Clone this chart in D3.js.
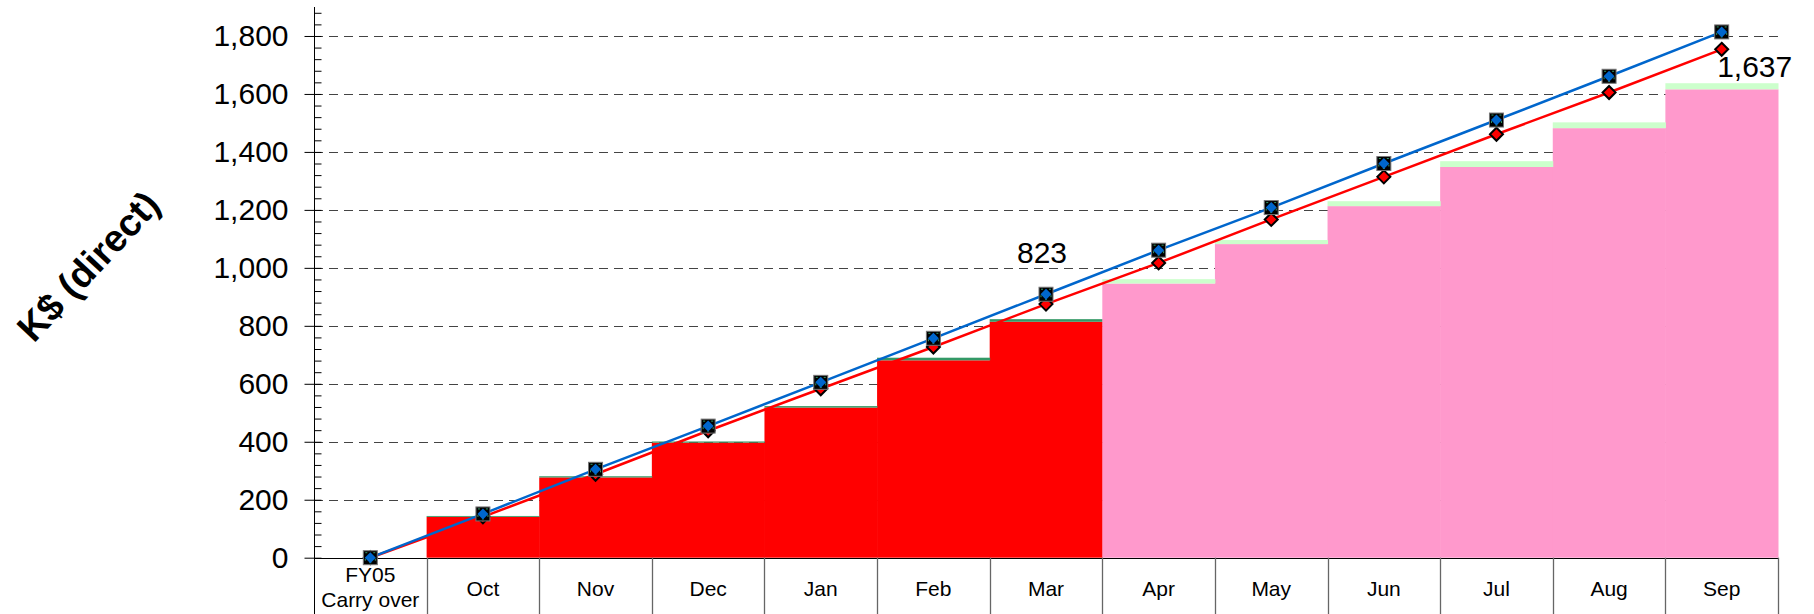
<!DOCTYPE html>
<html>
<head>
<meta charset="utf-8">
<title>K$ (direct) cumulative</title>
<style>
  body { margin: 0; background: #fff; }
  svg text { font-family: Arial, "Liberation Sans", sans-serif; fill: #000; }
</style>
</head>
<body>
<div id="chart"></div>
<script src="https://d3js.org/d3.v7.min.js"></script>
<script>
// categories, first one is two lines
var categories = ["FY05\nCarry over", "Oct", "Nov", "Dec", "Jan", "Feb", "Mar",
                  "Apr", "May", "Jun", "Jul", "Aug", "Sep"];

// cumulative bars: base part + small top part (stacked)
var actualBase   = [null, 141, 277, 397, 518, 681, 814, null, null, null, null, null, null];
var actualTop    = [null,   3,   4,   4,   5,   9,   9, null, null, null, null, null, null];
var forecastBase = [null, null, null, null, null, null, null, 946, 1082, 1213, 1348, 1482, 1616];
var forecastTop  = [null, null, null, null, null, null, null,  15,   14,   17,   20,   20,   21];

// lines
var planLine   = [0, 151, 305, 454, 605, 757, 909, 1061, 1208, 1360, 1510, 1661, 1814];
var actualLine = [0, 141, 288, 438, 583, 727, 875, 1017, 1167, 1314, 1461, 1605, 1754];

// data labels
var labelCats   = ["Mar", "Sep"];
var labelValues = [823, 1637];

var yTicks = [0, 200, 400, 600, 800, 1000, 1200, 1400, 1600, 1800];

var width = 1814, height = 614;
var plotLeft = 314, plotRight = 1778, plotTop = 7, zeroY = 557.7;

var svg = d3.select("#chart").append("svg")
    .attr("width", width)
    .attr("height", height);

var x = d3.scaleBand()
    .domain(categories)
    .range([plotLeft, plotRight])
    .padding(0);

var y = d3.scaleLinear()
    .domain([0, 1900])
    .range([zeroY, plotTop]);

// dashed gridlines
svg.append("g")
  .selectAll("line")
  .data(yTicks.filter(function(d) { return d > 0; }))
  .enter().append("line")
    .attr("x1", plotLeft)
    .attr("x2", plotRight)
    .attr("y1", function(d) { return Math.round(y(d)) + 0.5; })
    .attr("y2", function(d) { return Math.round(y(d)) + 0.5; })
    .attr("stroke", "#444")
    .attr("stroke-width", 1)
    .attr("stroke-dasharray", "9,6");

// stacked step bars
function drawBars(base, topPart, baseColor, topColor) {
  var idx = d3.range(categories.length).filter(function(i) { return base[i] != null; });
  var g = svg.append("g");
  g.selectAll("rect.base")
    .data(idx)
    .enter().append("rect")
      .attr("class", "base")
      .attr("x", function(i) { return x(categories[i]); })
      .attr("width", x.bandwidth() + 0.5)
      .attr("y", function(i) { return y(base[i]); })
      .attr("height", function(i) { return y(0) - y(base[i]); })
      .attr("fill", baseColor);
  g.selectAll("rect.top")
    .data(idx)
    .enter().append("rect")
      .attr("class", "top")
      .attr("x", function(i) { return x(categories[i]); })
      .attr("width", x.bandwidth() + 0.5)
      .attr("y", function(i) { return y(base[i] + topPart[i]); })
      .attr("height", function(i) { return y(base[i]) - y(base[i] + topPart[i]); })
      .attr("fill", topColor);
}
drawBars(actualBase, actualTop, "#ff0000", "#339966");
drawBars(forecastBase, forecastTop, "#ff99cc", "#ccffcc");

// x axis line and category dividers
svg.append("line")
  .attr("x1", plotLeft).attr("x2", plotRight)
  .attr("y1", Math.round(zeroY) + 0.5).attr("y2", Math.round(zeroY) + 0.5)
  .attr("stroke", "#000");

var bounds = categories.map(function(c) { return x(c); }).concat([plotRight]);
svg.append("g")
  .selectAll("line")
  .data(bounds.slice(1))
  .enter().append("line")
    .attr("x1", function(d) { return Math.round(d) + 0.5; })
    .attr("x2", function(d) { return Math.round(d) + 0.5; })
    .attr("y1", zeroY)
    .attr("y2", height)
    .attr("stroke", "#666")
    .attr("stroke-width", 1.3);

// category labels
var catG = svg.append("g");
categories.forEach(function(c) {
  var lines = c.split("\n");
  var cx = x(c) + x.bandwidth() / 2;
  var t = catG.append("text")
      .attr("text-anchor", "middle")
      .attr("font-size", 21);
  if (lines.length === 1) {
    t.append("tspan").attr("x", cx).attr("y", 596).text(lines[0]);
  } else {
    t.append("tspan").attr("x", cx).attr("y", 582).text(lines[0]);
    t.append("tspan").attr("x", cx).attr("y", 607).text(lines[1]);
  }
});

// y axis: major ticks outside, minor inside
var yAxis = svg.append("g")
    .attr("transform", "translate(" + (plotLeft + 0.5) + ",0)")
    .call(d3.axisLeft(y)
      .tickValues(yTicks)
      .tickSize(10)
      .tickPadding(16)
      .tickFormat(d3.format(",")));
yAxis.select(".domain").remove();
yAxis.selectAll("text").attr("font-size", 30).style("font-family", "Arial, 'Liberation Sans', sans-serif");
yAxis.selectAll("line").attr("stroke", "#000");

var minor = svg.append("g")
    .attr("transform", "translate(" + (plotLeft + 0.5) + ",0)")
    .call(d3.axisRight(y)
      .tickValues(d3.range(0, 1901, 40))
      .tickSize(7)
      .tickFormat(""));
minor.select(".domain").remove();
minor.selectAll("line").attr("stroke", "#000");

svg.append("line")
  .attr("x1", plotLeft + 0.5).attr("x2", plotLeft + 0.5)
  .attr("y1", plotTop).attr("y2", height)
  .attr("stroke", "#000");

// y axis title
svg.append("text")
  .attr("transform", "translate(88,266) rotate(-47)")
  .attr("text-anchor", "middle")
  .attr("dy", "0.35em")
  .attr("font-size", 38)
  .attr("font-weight", "bold")
  .text("K$ (direct)");

// lines
var cxOf = function(i) { return x(categories[i]) + x.bandwidth() / 2; };
var line = function(vals) {
  return d3.line()
    .x(function(d, i) { return cxOf(i); })
    .y(function(d) { return y(d); })(vals);
};

svg.append("path")
  .attr("d", line(actualLine))
  .attr("fill", "none")
  .attr("stroke", "#ff0000")
  .attr("stroke-width", 2.5);

svg.append("g")
  .selectAll("path")
  .data(actualLine)
  .enter().append("path")
    .attr("transform", function(d, i) { return "translate(" + cxOf(i) + "," + y(d) + ")"; })
    .attr("d", "M0,-6.5L6.5,0L0,6.5L-6.5,0Z")
    .attr("fill", "#ff0000")
    .attr("stroke", "#000")
    .attr("stroke-width", 2);

svg.append("path")
  .attr("d", line(planLine))
  .attr("fill", "none")
  .attr("stroke", "#0066cc")
  .attr("stroke-width", 2.5);

var pm = svg.append("g")
  .selectAll("g")
  .data(planLine)
  .enter().append("g")
    .attr("transform", function(d, i) { return "translate(" + cxOf(i) + "," + y(d) + ")"; });
pm.append("rect")
  .attr("x", -7).attr("y", -7).attr("width", 14).attr("height", 14)
  .attr("fill", "#000")
  .attr("stroke", "#777")
  .attr("stroke-width", 1);
pm.append("rect")
  .attr("x", -5).attr("y", -5).attr("width", 10).attr("height", 10)
  .attr("fill", "none")
  .attr("stroke", "#339966")
  .attr("stroke-width", 1)
  .attr("stroke-dasharray", "2,6");
pm.append("path")
  .attr("d", "M0,-5.5L5.5,0L0,5.5L-5.5,0Z")
  .attr("fill", "#0066cc");

// data labels
var labelDx = [-4, 33];
var labelDy = [-56, -6];
svg.append("g")
  .selectAll("text")
  .data(labelValues)
  .enter().append("text")
    .attr("x", function(d, i) { return x(labelCats[i]) + x.bandwidth() / 2 + labelDx[i]; })
    .attr("y", function(d, i) { return y(d) + labelDy[i]; })
    .attr("text-anchor", "middle")
    .attr("font-size", 30)
    .text(function(d) { return d3.format(",")(d); });
</script>
</body>
</html>
